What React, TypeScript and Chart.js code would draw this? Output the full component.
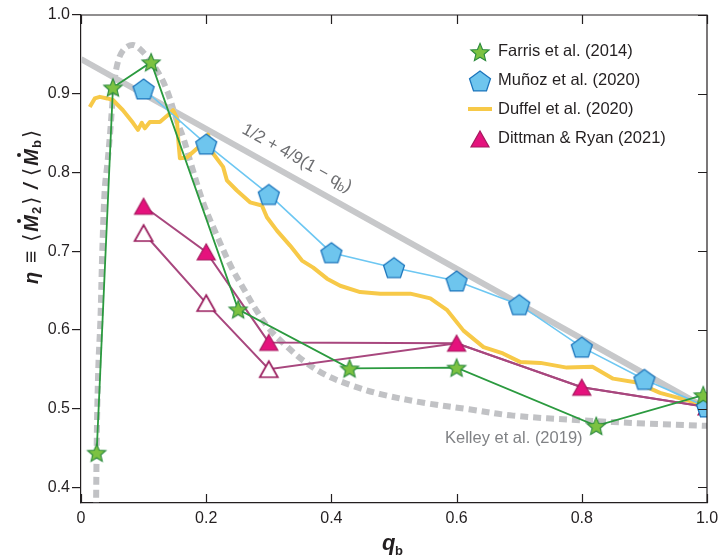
import React, { useEffect, useRef } from "react";
import { Chart, registerables } from "chart.js";

Chart.register(...registerables);

// ---------- data ----------
const xTickValues = [0, 0.2, 0.4, 0.6, 0.8, 1.0];
const yTickValues = [0.4, 0.5, 0.6, 0.7, 0.8, 0.9, 1.0];

const farrisQ = [0.025, 0.051, 0.112, 0.251, 0.429, 0.6, 0.823, 0.994];
const farrisEta = [0.444, 0.908, 0.940, 0.626, 0.551, 0.552, 0.478, 0.517];

const munozQ = [0.1, 0.2, 0.3, 0.4, 0.5, 0.6, 0.7, 0.8, 0.9, 1.0];
const munozEta = [0.906, 0.836, 0.772, 0.698, 0.679, 0.662, 0.632, 0.578, 0.537, 0.502];

const dittmanQ = [0.1, 0.2, 0.3, 0.6, 0.8, 1.0];
const dittmanEta = [0.757, 0.699, 0.584, 0.583, 0.527, 0.502];
const dittmanAltEta = [0.723, 0.634, 0.55, 0.583, 0.527, 0.502];

const duffelQ = [
  0.014, 0.022, 0.03, 0.042, 0.051, 0.067, 0.083, 0.091, 0.097, 0.102, 0.11, 0.126,
  0.139, 0.147, 0.153, 0.155, 0.158, 0.169, 0.182, 0.195, 0.203, 0.211, 0.227, 0.233,
  0.249, 0.27, 0.289, 0.297, 0.313, 0.334, 0.353, 0.371, 0.393, 0.414, 0.446, 0.478,
  0.526, 0.558, 0.585, 0.611, 0.643, 0.674, 0.702, 0.734, 0.776, 0.817, 0.85, 0.888,
  0.925, 0.957, 0.989,
];
const duffelEta = [
  0.883, 0.894, 0.896, 0.894, 0.892, 0.879, 0.863, 0.854, 0.863, 0.856, 0.864, 0.864,
  0.873, 0.879, 0.87, 0.845, 0.818, 0.819, 0.828, 0.837, 0.848, 0.824, 0.807, 0.79,
  0.777, 0.762, 0.758, 0.743, 0.726, 0.707, 0.688, 0.679, 0.665, 0.656, 0.648, 0.646,
  0.646, 0.64, 0.625, 0.599, 0.578, 0.57, 0.559, 0.558, 0.552, 0.553, 0.538, 0.533,
  0.52, 0.513, 0.506,
];

const kelleyQ = [
  0.024, 0.025, 0.026, 0.028, 0.031, 0.034, 0.038, 0.042, 0.046, 0.051, 0.057, 0.067,
  0.083, 0.099, 0.121, 0.137, 0.153, 0.163, 0.175, 0.195, 0.217, 0.24, 0.26, 0.28,
  0.302, 0.33, 0.355, 0.39, 0.43, 0.48, 0.55, 0.62, 0.69, 0.8, 0.9, 1.0,
];
const kelleyEta = [
  0.37, 0.45, 0.5, 0.56, 0.612, 0.7, 0.78, 0.81, 0.845, 0.895, 0.934, 0.955,
  0.962, 0.953, 0.93, 0.905, 0.866, 0.845, 0.813, 0.762, 0.72, 0.68, 0.652, 0.625,
  0.6, 0.578, 0.561, 0.543, 0.53, 0.518, 0.507, 0.499, 0.491, 0.485, 0.481, 0.478,
];

const analyticQ = [0, 1];
const analyticEta = [0.944, 0.5];

const legendLabels = ["Farris et al. (2014)", "Muñoz et al. (2020)", "Duffel et al. (2020)", "Dittman & Ryan (2021)"];
const kelleyLabel = "Kelley et al. (2019)";

// ---------- helpers ----------
const zip = (xs: number[], ys: number[]) => xs.map((x, i) => ({ x, y: ys[i] }));
const FONT = '"Liberation Sans", "DejaVu Sans", sans-serif';
const INK = "#231f20";

function makeMarker(kind: string): HTMLCanvasElement {
  const size = 26;
  const c = document.createElement("canvas");
  c.width = size;
  c.height = size;
  const g = c.getContext("2d")!;
  let pts: [number, number][] = [];
  if (kind === "star") {
    const R = 9.6, r = 4.3;
    for (let i = 0; i < 10; i++) {
      const a = -Math.PI / 2 + (i * Math.PI) / 5;
      const rr = i % 2 === 0 ? R : r;
      pts.push([rr * Math.cos(a), rr * Math.sin(a)]);
    }
  } else if (kind === "pent") {
    const R = 11;
    for (let i = 0; i < 5; i++) {
      const a = -Math.PI / 2 + (i * 2 * Math.PI) / 5;
      pts.push([R * Math.cos(a), R * Math.sin(a)]);
    }
  } else {
    pts = [[0, -8], [9, 8], [-9, 8]];
  }
  const ys = pts.map((p) => p[1]);
  const off = (Math.min(...ys) + Math.max(...ys)) / 2;
  g.beginPath();
  pts.forEach((p, i) => {
    const px = size / 2 + p[0];
    const py = size / 2 + p[1] - off;
    if (i === 0) g.moveTo(px, py);
    else g.lineTo(px, py);
  });
  g.closePath();
  g.lineJoin = "miter";
  if (kind === "star") {
    g.fillStyle = "#7cc242";
    g.strokeStyle = "#2b8a3e";
    g.lineWidth = 1.1;
  } else if (kind === "pent") {
    g.fillStyle = "#6ec5ee";
    g.strokeStyle = "#1c75bc";
    g.lineWidth = 1.3;
  } else if (kind === "tri") {
    g.fillStyle = "#e5127d";
    g.strokeStyle = "#a6195e";
    g.lineWidth = 1.2;
  } else {
    g.fillStyle = "#ffffff";
    g.strokeStyle = "#9b1f5f";
    g.lineWidth = 1.7;
  }
  g.fill();
  g.stroke();
  return c;
}

export default function App() {
  const ref = useRef<HTMLCanvasElement | null>(null);

  useEffect(() => {
    const canvas = ref.current;
    if (!canvas) return;
    const star = makeMarker("star");
    const pent = makeMarker("pent");
    const tri = makeMarker("tri");
    const openTri = makeMarker("open");

    const decor = {
      id: "decor",
      afterDraw(chart: any) {
        const { ctx, chartArea: a } = chart;
        const xs = chart.scales.x;
        const ys = chart.scales.y;
        ctx.save();
        // frame top + right
        ctx.strokeStyle = INK;
        ctx.lineWidth = 1.2;
        ctx.beginPath();
        ctx.moveTo(a.left, a.top);
        ctx.lineTo(a.right, a.top);
        ctx.lineTo(a.right, a.bottom);
        ctx.stroke();
        // inward ticks
        ctx.beginPath();
        xTickValues.forEach((v) => {
          const px = Math.round(xs.getPixelForValue(v)) + 0.5;
          ctx.moveTo(px, a.bottom);
          ctx.lineTo(px, a.bottom - 9);
          ctx.moveTo(px, a.top);
          ctx.lineTo(px, a.top + 9);
        });
        yTickValues.forEach((v) => {
          const py = Math.round(ys.getPixelForValue(v)) + 0.5;
          ctx.moveTo(a.right, py);
          ctx.lineTo(a.right - 9, py);
        });
        ctx.stroke();

        // analytic label
        const x0 = xs.getPixelForValue(0), x1 = xs.getPixelForValue(1);
        const y0 = ys.getPixelForValue(0.944), y1 = ys.getPixelForValue(0.5);
        const ang = Math.atan2(y1 - y0, x1 - x0);
        ctx.save();
        ctx.translate(297, 158);
        ctx.rotate(ang);
        ctx.fillStyle = "#6d6e71";
        const mainF = `17px ${FONT}`;
        const subF = `12px ${FONT}`;
        ctx.font = mainF;
        const p1 = "1/2 + 4/9(1 − q";
        const w1 = ctx.measureText(p1).width;
        ctx.font = subF;
        const w2 = ctx.measureText("b").width;
        ctx.font = mainF;
        const w3 = ctx.measureText(")").width;
        let cx = -(w1 + w2 + w3) / 2;
        ctx.textBaseline = "alphabetic";
        ctx.fillText(p1, cx, 5);
        cx += w1;
        ctx.font = subF;
        ctx.fillText("b", cx, 8);
        cx += w2;
        ctx.font = mainF;
        ctx.fillText(")", cx, 5);
        ctx.restore();

        // Kelley label
        ctx.fillStyle = "#808285";
        ctx.font = `16.5px ${FONT}`;
        ctx.textBaseline = "alphabetic";
        ctx.fillText(kelleyLabel, 445, 443);

        // legend
        const rows = [
          { m: star, cy: 52, by: 56 },
          { m: pent, cy: 81, by: 85 },
          { m: null, cy: 109, by: 114 },
          { m: tri, cy: 139, by: 143 },
        ];
        rows.forEach((r, i) => {
          if (r.m) {
            ctx.drawImage(r.m, 480 - r.m.width / 2, r.cy - r.m.height / 2);
          } else {
            ctx.strokeStyle = "#f7c948";
            ctx.lineWidth = 4;
            ctx.beginPath();
            ctx.moveTo(468, r.cy);
            ctx.lineTo(492, r.cy);
            ctx.stroke();
          }
          ctx.fillStyle = INK;
          ctx.font = `16.5px ${FONT}`;
          ctx.fillText(legendLabels[i], 498, r.by);
        });

        // x title
        ctx.fillStyle = INK;
        ctx.font = `italic bold 22px ${FONT}`;
        ctx.fillText("q", 382, 550);
        const qw = ctx.measureText("q").width;
        ctx.font = `bold 13px ${FONT}`;
        ctx.fillText("b", 382 + qw - 0.5, 555);

        // y title (rotated)
        ctx.save();
        ctx.translate(38, 284);
        ctx.rotate(-Math.PI / 2);
        let tx = 0;
        const bi = `italic bold 20px ${FONT}`;
        const br = `21px "DejaVu Sans", ${FONT}`;
        const sb = `bold 13px ${FONT}`;
        const seg = (t: string, f: string, dy = 0, gap = 0) => {
          ctx.font = f;
          ctx.fillText(t, tx, dy);
          const w = ctx.measureText(t).width;
          tx += w + gap;
          return w;
        };
        const mDot = () => {
          const start = tx;
          const w = seg("M", bi, 0, 1);
          ctx.beginPath();
          ctx.arc(start + w * 0.64, -19, 2, 0, Math.PI * 2);
          ctx.fill();
        };
        seg("η", bi, 0, 3);
        seg(" ≡ ", `bold 21px ${FONT}`, 0, 3);
        seg("⟨", br, 0, 2);
        mDot();
        seg("2", sb, 3, 2);
        seg("⟩", br, 0, 2);
        seg(" / ", bi, 0, 2);
        seg("⟨", br, 0, 2);
        mDot();
        seg("b", sb, 3, 2);
        seg("⟩", br);
        ctx.restore();

        ctx.restore();
      },
    };

    const chart = new Chart(canvas, {
      type: "scatter",
      data: {
        datasets: [
          {
            label: legendLabels[0],
            data: zip(farrisQ, farrisEta),
            showLine: true,
            borderColor: "#2b9a3f",
            borderWidth: 1.8,
            pointStyle: star,
            pointRadius: 5,
            order: 1,
            clip: 0,
          },
          {
            label: legendLabels[1],
            data: zip(munozQ, munozEta),
            showLine: true,
            borderColor: "#6dc7f2",
            borderWidth: 1.6,
            pointStyle: pent,
            pointRadius: 5,
            order: 2,
            clip: 0,
          },
          {
            label: legendLabels[3],
            data: zip(dittmanQ, dittmanEta),
            showLine: true,
            borderColor: "#a8477e",
            borderWidth: 2,
            pointStyle: tri,
            pointRadius: 5,
            order: 3,
            clip: 0,
          },
          {
            label: legendLabels[3] + " (alt)",
            data: zip(dittmanQ, dittmanAltEta),
            showLine: true,
            borderColor: "#a8477e",
            borderWidth: 2,
            pointStyle: openTri,
            pointRadius: [5, 5, 5, 0, 0, 0],
            order: 4,
            clip: 0,
          },
          {
            label: legendLabels[2],
            data: zip(duffelQ, duffelEta),
            showLine: true,
            borderColor: "#f7c948",
            borderWidth: 4,
            pointRadius: 0,
            borderJoinStyle: "round",
            order: 5,
            clip: 0,
          },
          {
            label: "1/2 + 4/9(1 − q_b)",
            data: zip(analyticQ, analyticEta),
            showLine: true,
            borderColor: "#c7c8ca",
            borderWidth: 6,
            pointRadius: 0,
            order: 6,
            clip: 0,
          },
          {
            label: kelleyLabel,
            data: zip(kelleyQ, kelleyEta),
            showLine: true,
            borderColor: "#c1c2c5",
            borderWidth: 6,
            borderDash: [8, 5],
            pointRadius: 0,
            tension: 0.35,
            order: 7,
            clip: 0,
          },
        ],
      } as any,
      options: {
        animation: false,
        responsive: false,
        devicePixelRatio: 1,
        events: [],
        layout: { padding: { left: 0, top: 15, right: 12, bottom: 0 } },
        plugins: { legend: { display: false }, tooltip: { enabled: false } },
        scales: {
          x: {
            type: "linear",
            min: 0,
            max: 1,
            afterBuildTicks: (s: any) => {
              s.ticks = xTickValues.map((v) => ({ value: v }));
            },
            afterFit: (s: any) => {
              s.height = 53;
              s.paddingLeft = 0;
              s.paddingRight = 0;
            },
            grid: { display: true, drawOnChartArea: false, drawTicks: false },
            border: { display: true, color: INK, width: 1.2 },
            ticks: {
              color: INK,
              font: { family: FONT, size: 16 },
              padding: 6,
              maxRotation: 0,
              autoSkip: false,
              callback: (v: any) => (Number(v) === 0 ? "0" : Number(v).toFixed(1)),
            },
          },
          y: {
            type: "linear",
            min: 0.38,
            max: 1.0,
            afterBuildTicks: (s: any) => {
              s.ticks = yTickValues.map((v) => ({ value: v }));
            },
            afterFit: (s: any) => {
              s.width = 81;
              s.paddingTop = 0;
              s.paddingBottom = 0;
            },
            grid: { display: true, drawOnChartArea: false, drawTicks: true, tickLength: 9, color: INK, lineWidth: 1.2 },
            border: { display: true, color: INK, width: 1.2 },
            ticks: {
              color: INK,
              font: { family: FONT, size: 16 },
              padding: 2,
              autoSkip: false,
              callback: (v: any) => Number(v).toFixed(1),
            },
          },
        },
      } as any,
      plugins: [decor],
    });
    return () => chart.destroy();
  }, []);

  return (
    <div style={{ position: "fixed", left: 0, top: 0, width: 719, height: 556, background: "#fff" }}>
      <canvas ref={ref} width={719} height={556} style={{ display: "block", width: 719, height: 556 }} />
    </div>
  );
}
